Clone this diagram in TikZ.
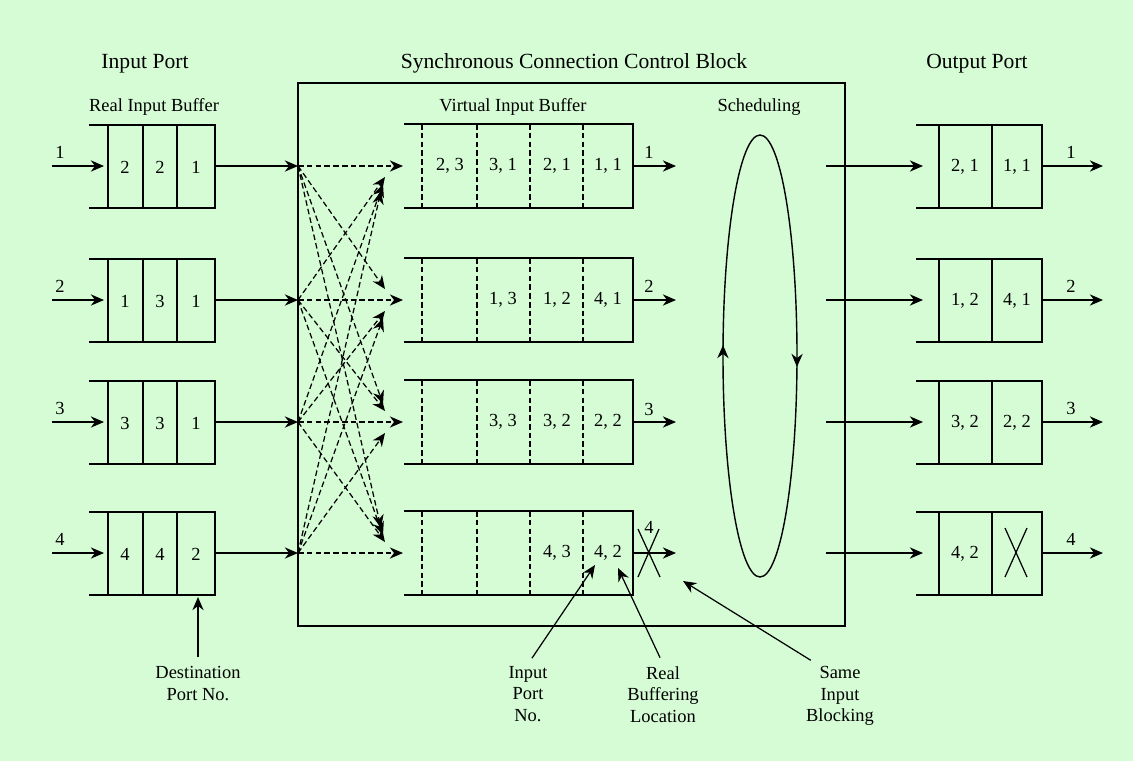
\documentclass[tikz,border=0pt]{standalone}
\usepackage{fontspec}
\setmainfont{Liberation Serif}
\usetikzlibrary{arrows.meta,decorations.markings}
\definecolor{paleg}{RGB}{214,252,214}

\begin{document}
\begin{tikzpicture}[x=0.02cm,y=-0.02cm,line width=0.8pt,
  >={Stealth[length=7.5pt,width=6.4pt,inset=2.4pt]},
  ttl/.style={font=\fontsize{12.3}{14}\selectfont,anchor=base},
  lbl/.style={font=\fontsize{10.5}{12.2}\selectfont,inner sep=1pt},
  note/.style={lbl,align=center,anchor=north},
  vsep/.style={dash pattern=on 3.2pt off 1.8pt,line width=0.7pt},
  xbar/.style={->,dash pattern=on 3.2pt off 1.8pt,line width=0.7pt},
  ptr/.style={->,line width=0.7pt,shorten <=4pt}]
  \fill[paleg] (0,0) rectangle (1133,761);
  \useasboundingbox (0,0) rectangle (1133,761);
  % titles
  \node[ttl] (inport) at (145,68) {Input Port};
  \node[ttl] (sccb) at (574,68) {Synchronous Connection Control Block};
  \node[ttl] (outport) at (977,68) {Output Port};
  \node[lbl] (rib) at (154,107) {Real Input Buffer};
  \node[lbl] (vib) at (513,107) {Virtual Input Buffer};
  \node[lbl] (sched) at (759,107) {Scheduling};
  \draw (298,83) rectangle (845,626);
  % real input buffers
  \foreach \r/\y/\ca/\cb/\cc in {1/166/2/2/1,2/300/1/3/1,3/422/3/3/1,4/553/4/4/2}{
    \draw (89,\y-41) -- (215,\y-41) -- (215,\y+42) -- (89,\y+42);
    \foreach \x in {108,143,177} \draw (\x,\y-41) -- (\x,\y+42);
    \node[lbl] (ra\r) at (125,\y+1) {\ca};
    \node[lbl] (rb\r) at (160,\y+1) {\cb};
    \node[lbl] (rc\r) at (196,\y+1) {\cc};
    \node[lbl] (num\r) at (60,\y-14) {\r};
    \coordinate (src\r) at (52,\y);
    \coordinate (rin\r) at (104,\y);
    \coordinate (rout\r) at (215,\y);
    \coordinate (tap\r) at (298,\y);
    \draw[->] (src\r) -- (rin\r);
    \draw[->] (rout\r) -- (tap\r);
  }
  % virtual input buffers
  \foreach \r/\y/\ca/\cb/\cc/\cd in {1/166/{2, 3}/{3, 1}/{2, 1}/{1, 1},2/300/{}/{1, 3}/{1, 2}/{4, 1},3/422/{}/{3, 3}/{3, 2}/{2, 2},4/553/{}/{}/{4, 3}/{4, 2}}{
    \draw (404,\y-42) -- (633,\y-42) -- (633,\y+42) -- (404,\y+42);
    \foreach \x in {422,477,530,583} \draw[vsep] (\x,\y-42) -- (\x,\y+42);
    \node[lbl] (va\r) at (450,\y) {\ca};
    \node[lbl] (vb\r) at (503,\y) {\cb};
    \node[lbl] (vc\r) at (557,\y) {\cc};
    \node[lbl] (vd\r) at (608,\y) {\cd};
    \coordinate (vin\r) at (403,\y);
    \coordinate (vout\r) at (633,\y);
    \coordinate (vend\r) at (676,\y);
    \draw[->] (vout\r) -- (vend\r);
  }
  \foreach \r/\y in {1/152,2/286,3/409,4/527} \node[lbl] (vn\r) at (649,\y) {\r};
  \draw[line width=0.7pt] (638,529) -- (660,577) (659,529) -- (638,577);
  % crossbar
  \foreach \i/\yi in {1/166,2/300,3/422,4/553}
   \foreach \j/\yj in {1/166,2/300,3/422,4/553}{
     \pgfmathtruncatemacro\dd{abs(\i-\j)}
     \ifnum\dd=0
       \draw[xbar] (tap\i) -- (vin\j);
     \else
       \pgfmathsetmacro\sg{\i>\j ? 1 : -1}
       \coordinate (x\i\j) at ({385-2*(\dd-1)},{\yj+\sg*(11+7*(\dd-1))});
       \draw[xbar] (tap\i) -- (x\i\j);
     \fi}
  % scheduling
  \draw[postaction={decorate},decoration={markings,
      mark=at position 0.012 with {\arrow{>}},
      mark=at position 0.512 with {\arrow{>}}}]
    (760,356) ellipse [x radius=37, y radius=221];
  % output ports
  \foreach \r/\y/\ca/\cb in {1/166/{2, 1}/{1, 1},2/300/{1, 2}/{4, 1},3/422/{3, 2}/{2, 2},4/553/{4, 2}/{}}{
    \draw (916,\y-41) -- (1042,\y-41) -- (1042,\y+42) -- (916,\y+42);
    \draw (939,\y-41) -- (939,\y+42) (992,\y-41) -- (992,\y+42);
    \node[lbl] (pa\r) at (965,\y+1) {\ca};
    \node[lbl] (pb\r) at (1017,\y+1) {\cb};
    \node[lbl] (pn\r) at (1071,\y-14) {\r};
    \coordinate (oin\r) at (826,\y);
    \coordinate (otip\r) at (923,\y);
    \coordinate (oout\r) at (1042,\y);
    \coordinate (oend\r) at (1103,\y);
    \draw[->] (oin\r) -- (otip\r);
    \draw[->] (oout\r) -- (oend\r);
  }
  \draw[line width=0.7pt] (1005,528) -- (1027,577) (1027,528) -- (1005,577);
  % notes
  \node[note] (dpn) at (198,664) {Destination\\Port No.};
  \node[note] (ipn) at (528,664) {Input\\Port\\No.};
  \node[note] (rbl) at (663,664) {Real\\Buffering\\Location};
  \node[note] (sib) at (840,664) {Same\\Input\\Blocking};
  \coordinate (dpt) at (198,597);
  \coordinate (ipt) at (595,565);
  \coordinate (rbt) at (618,568);
  \coordinate (sit) at (683,581);
  \draw[ptr] (dpn.north) -- (dpt);
  \draw[ptr] (ipn.north) -- (ipt);
  \draw[ptr] (rbl.north) -- (rbt);
  \draw[ptr] (sib.126) -- (sit);
\end{tikzpicture}
\end{document}
